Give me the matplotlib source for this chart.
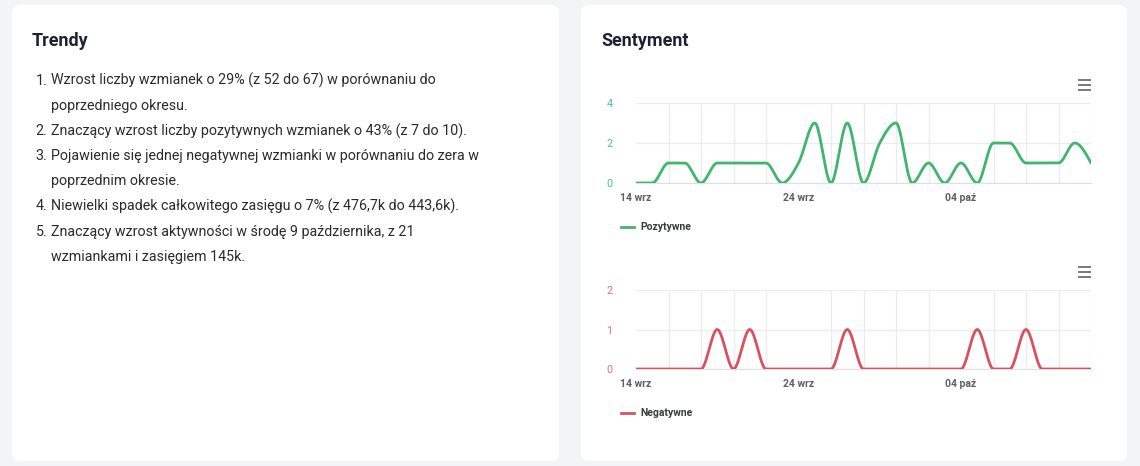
import numpy as np
import matplotlib
matplotlib.use("Agg")
import matplotlib.pyplot as plt
from matplotlib.patches import FancyBboxPatch

plt.rcParams['font.family'] = ['Roboto', 'DejaVu Sans']

# data (one value per day, 14 wrz .. 12 paz)
positive = [0, 0, 1, 1, 0, 1, 1, 1, 1, 0, 1, 3, 0, 3, 0, 2, 3, 0, 1, 0, 1, 0, 2, 2, 1, 1, 1, 2, 1]
negative = [0, 0, 0, 0, 0, 1, 0, 1, 0, 0, 0, 0, 0, 1, 0, 0, 0, 0, 0, 0, 0, 1, 0, 0, 1, 0, 0, 0, 0]
tick_days = [0, 10, 20]
tick_labels = ['14 wrz', '24 wrz', '04 paź']

trend_items = [
    ['Wzrost liczby wzmianek o 29% (z 52 do 67) w porównaniu do', 'poprzedniego okresu.'],
    ['Znaczący wzrost liczby pozytywnych wzmianek o 43% (z 7 do 10).'],
    ['Pojawienie się jednej negatywnej wzmianki w porównaniu do zera w', 'poprzednim okresie.'],
    ['Niewielki spadek całkowitego zasięgu o 7% (z 476,7k do 443,6k).'],
    ['Znaczący wzrost aktywności w środę 9 października, z 21', 'wzmiankami i zasięgiem 145k.'],
]

W, H = 1140, 466
GREEN = '#3fb66d'
RED = '#d9515e'


def monotone(y, n=24):
    # monotone cubic (like d3 curveMonotoneX) for the smooth line
    y = np.asarray(y, float)
    d = np.diff(y)
    m = np.zeros_like(y)
    for i in range(1, len(y) - 1):
        s0, s1 = d[i - 1], d[i]
        p = (s0 + s1) / 2
        m[i] = (np.sign(s0) + np.sign(s1)) * min(abs(s0), abs(s1), 0.5 * abs(p))
    m[0] = (3 * d[0] - m[1]) / 2
    m[-1] = (3 * d[-1] - m[-2]) / 2
    t = np.linspace(0, 1, n, endpoint=False)
    h00 = 2 * t**3 - 3 * t**2 + 1
    h10 = t**3 - 2 * t**2 + t
    h01 = -2 * t**3 + 3 * t**2
    h11 = t**3 - t**2
    xs, ys = [], []
    for i in range(len(y) - 1):
        xs.extend(i + t)
        ys.extend(h00 * y[i] + h10 * m[i] + h01 * y[i + 1] + h11 * m[i + 1])
    xs.append(len(y) - 1)
    ys.append(y[-1])
    return np.array(xs), np.array(ys)


fig = plt.figure(figsize=(W / 100, H / 100), dpi=100)
fig.patch.set_facecolor('#f3f4f6')

bg = fig.add_axes([0, 0, 1, 1])
bg.set_xlim(0, W)
bg.set_ylim(H, 0)
bg.axis('off')

for x0, x1 in [(12, 559), (581, 1127)]:
    bg.add_patch(FancyBboxPatch((x0, 5), x1 - x0, 456, boxstyle='round,pad=0,rounding_size=8',
                                facecolor='white', edgecolor='none'))

bg.text(32, 46, 'Trendy', fontsize=13, fontweight='bold', color='#1f2132', va='baseline')
bg.text(601, 46, 'Sentyment', fontsize=13, fontweight='bold', color='#1f2132', va='baseline')

y = 85
for k, lines in enumerate(trend_items):
    bg.text(47.5, y, f'{k + 1}.', fontsize=10.3, color='#2b2b2b', ha='right', va='baseline')
    for line in lines:
        bg.text(51, y, line, fontsize=10.3, color='#2b2b2b', ha='left', va='baseline')
        y += 25.1


def menu_icon(yc):
    for dy in (-5, 0, 5):
        bg.plot([1078, 1091], [yc + dy, yc + dy], color='#6e6e6e', lw=1.3, solid_capstyle='butt')


def chart(top, bottom, values, color, label_color, ymax, yticks, name, legend_y):
    ax = fig.add_axes([636 / W, 1 - bottom / H, 455 / W, (bottom - top) / H])
    xs, ys = monotone(values)
    ax.plot(xs, ys, color=color, lw=2, solid_capstyle='round', zorder=3)
    ax.set_xlim(0, len(values) - 1)
    ax.set_ylim(0, ymax)
    ax.set_yticks(yticks)
    ax.set_yticklabels([str(v) for v in yticks], color=label_color, fontsize=7.8)
    ax.set_xticks(tick_days)
    ax.set_xticklabels(tick_labels, fontsize=7.5, fontweight='bold', color='#5f5f5f')
    ax.set_xticks(range(0, len(values), 2), minor=True)
    ax.tick_params(axis='both', which='both', length=0)
    ax.tick_params(axis='y', pad=17)
    ax.tick_params(axis='x', pad=7)
    ax.grid(axis='y', color='#ececec', lw=1)
    ax.grid(axis='x', which='minor', color='#ececec', lw=1)
    for s in ['top', 'right', 'left']:
        ax.spines[s].set_visible(False)
    ax.spines['bottom'].set_color('#e0e0e0')
    ax.set_facecolor('none')
    bg.plot([621, 634], [legend_y, legend_y], color=color, lw=2)
    bg.text(640, legend_y, name, fontsize=7.5, fontweight='bold', color='#373d3f', va='center')
    return ax


menu_icon(85)
chart(103, 183, positive, GREEN, '#4cc194', 4, [0, 2, 4], 'Pozytywne', 227)
menu_icon(272)
chart(290, 369, negative, RED, '#e0707a', 2, [0, 1, 2], 'Negatywne', 413)

fig.savefig('out.png', dpi=100, facecolor=fig.get_facecolor())
